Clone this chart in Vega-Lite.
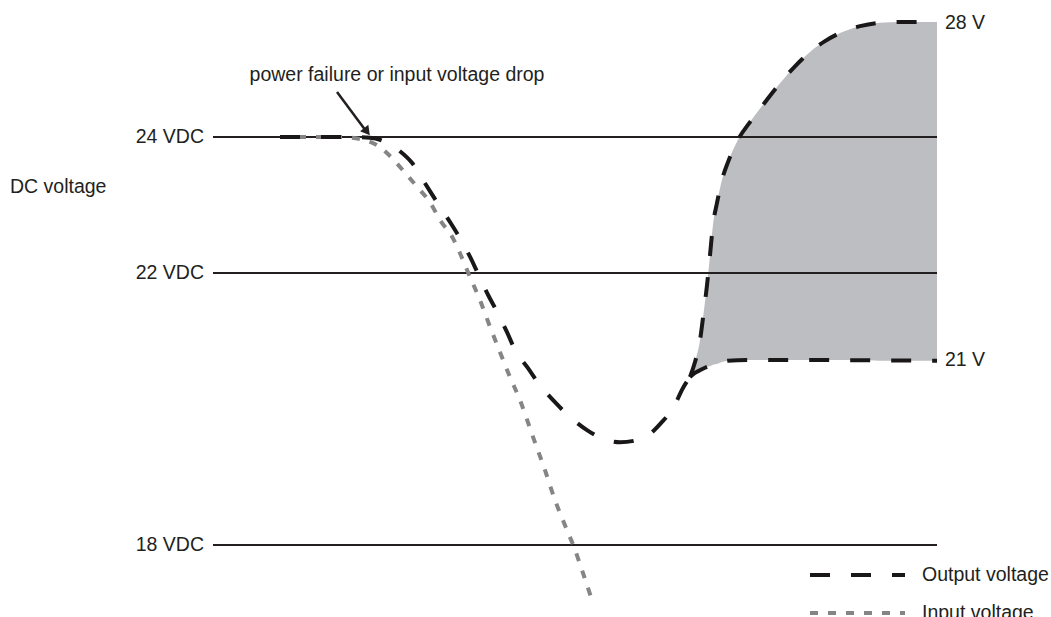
{
  "$schema": "https://vega.github.io/schema/vega-lite/v6.json",
  "width": 1051,
  "height": 617,
  "autosize": {"type": "none"},
  "padding": 0,
  "background": "white",
  "config": {"view": {"stroke": null}, "text": {"font": "Liberation Sans", "fontSize": 19.5, "color": "#231f20"}},
  "datasets": {
    "curves": [
      {"branch": "main", "t": 280, "v": 24.0},
      {"branch": "main", "t": 340, "v": 24.0},
      {"branch": "main", "t": 370, "v": 23.99},
      {"branch": "main", "t": 385, "v": 23.93},
      {"branch": "main", "t": 400, "v": 23.79},
      {"branch": "main", "t": 412, "v": 23.62},
      {"branch": "main", "t": 425, "v": 23.32},
      {"branch": "main", "t": 437, "v": 23.04},
      {"branch": "main", "t": 450, "v": 22.75},
      {"branch": "main", "t": 460, "v": 22.51},
      {"branch": "main", "t": 470, "v": 22.24},
      {"branch": "main", "t": 478, "v": 21.99},
      {"branch": "main", "t": 488, "v": 21.68},
      {"branch": "main", "t": 497, "v": 21.43},
      {"branch": "main", "t": 507, "v": 21.13},
      {"branch": "main", "t": 515, "v": 20.87},
      {"branch": "main", "t": 528, "v": 20.6},
      {"branch": "main", "t": 540, "v": 20.35},
      {"branch": "main", "t": 555, "v": 20.1},
      {"branch": "main", "t": 568, "v": 19.91},
      {"branch": "main", "t": 587, "v": 19.69},
      {"branch": "main", "t": 603, "v": 19.56},
      {"branch": "main", "t": 620, "v": 19.51},
      {"branch": "main", "t": 643, "v": 19.57},
      {"branch": "main", "t": 662, "v": 19.81},
      {"branch": "main", "t": 673, "v": 20.01},
      {"branch": "main", "t": 683, "v": 20.31},
      {"branch": "main", "t": 690, "v": 20.47},
      {"branch": "lower", "t": 690, "v": 20.47},
      {"branch": "lower", "t": 695, "v": 20.53},
      {"branch": "lower", "t": 700, "v": 20.57},
      {"branch": "lower", "t": 707, "v": 20.62},
      {"branch": "lower", "t": 717, "v": 20.66},
      {"branch": "lower", "t": 728, "v": 20.71},
      {"branch": "lower", "t": 750, "v": 20.72},
      {"branch": "lower", "t": 800, "v": 20.72},
      {"branch": "lower", "t": 937, "v": 20.71},
      {"branch": "upper", "t": 690, "v": 20.47},
      {"branch": "upper", "t": 695, "v": 20.69},
      {"branch": "upper", "t": 700, "v": 21.01},
      {"branch": "upper", "t": 704, "v": 21.46},
      {"branch": "upper", "t": 707, "v": 21.82},
      {"branch": "upper", "t": 710, "v": 22.26},
      {"branch": "upper", "t": 713, "v": 22.71},
      {"branch": "upper", "t": 717, "v": 23.03},
      {"branch": "upper", "t": 722, "v": 23.37},
      {"branch": "upper", "t": 728, "v": 23.63},
      {"branch": "upper", "t": 738, "v": 23.96},
      {"branch": "upper", "t": 750, "v": 24.22},
      {"branch": "upper", "t": 765, "v": 24.51},
      {"branch": "upper", "t": 780, "v": 24.79},
      {"branch": "upper", "t": 795, "v": 25.04},
      {"branch": "upper", "t": 810, "v": 25.25},
      {"branch": "upper", "t": 825, "v": 25.41},
      {"branch": "upper", "t": 840, "v": 25.53},
      {"branch": "upper", "t": 860, "v": 25.63},
      {"branch": "upper", "t": 880, "v": 25.68},
      {"branch": "upper", "t": 900, "v": 25.69},
      {"branch": "upper", "t": 937, "v": 25.69}
    ],
    "band": [
      {"t": 690, "hi": 20.47, "lo": 20.47},
      {"t": 695, "hi": 20.69, "lo": 20.53},
      {"t": 700, "hi": 21.01, "lo": 20.57},
      {"t": 704, "hi": 21.46, "lo": 20.6},
      {"t": 707, "hi": 21.82, "lo": 20.62},
      {"t": 710, "hi": 22.26, "lo": 20.63},
      {"t": 713, "hi": 22.71, "lo": 20.65},
      {"t": 717, "hi": 23.03, "lo": 20.66},
      {"t": 722, "hi": 23.37, "lo": 20.69},
      {"t": 728, "hi": 23.63, "lo": 20.71},
      {"t": 738, "hi": 23.96, "lo": 20.72},
      {"t": 750, "hi": 24.22, "lo": 20.72},
      {"t": 765, "hi": 24.51, "lo": 20.72},
      {"t": 780, "hi": 24.79, "lo": 20.72},
      {"t": 795, "hi": 25.04, "lo": 20.72},
      {"t": 810, "hi": 25.25, "lo": 20.72},
      {"t": 825, "hi": 25.41, "lo": 20.72},
      {"t": 840, "hi": 25.53, "lo": 20.72},
      {"t": 860, "hi": 25.63, "lo": 20.72},
      {"t": 880, "hi": 25.68, "lo": 20.71},
      {"t": 900, "hi": 25.69, "lo": 20.71},
      {"t": 937, "hi": 25.69, "lo": 20.71}
    ],
    "input": [
      {"t": 280, "v": 24.0},
      {"t": 340, "v": 24.0},
      {"t": 360, "v": 23.97},
      {"t": 377, "v": 23.88},
      {"t": 390, "v": 23.72},
      {"t": 407, "v": 23.44},
      {"t": 420, "v": 23.22},
      {"t": 430, "v": 23.04},
      {"t": 440, "v": 22.78},
      {"t": 453, "v": 22.51},
      {"t": 460, "v": 22.29},
      {"t": 468, "v": 22.01},
      {"t": 480, "v": 21.6},
      {"t": 490, "v": 21.21},
      {"t": 498, "v": 20.91},
      {"t": 510, "v": 20.47},
      {"t": 520, "v": 20.13},
      {"t": 533, "v": 19.59},
      {"t": 545, "v": 19.1},
      {"t": 555, "v": 18.66},
      {"t": 565, "v": 18.29},
      {"t": 575, "v": 17.93},
      {"t": 582, "v": 17.63},
      {"t": 592, "v": 17.19}
    ],
    "levels": [
      {"v": 24, "label": "24 VDC"},
      {"v": 22, "label": "22 VDC"},
      {"v": 18, "label": "18 VDC"}
    ],
    "endlabels": [
      {"v": 25.68, "label": "28 V"},
      {"v": 20.72, "label": "21 V"}
    ],
    "legend": [
      {"series": "Output voltage", "t": 810, "v": 17.56},
      {"series": "Output voltage", "t": 905, "v": 17.56},
      {"series": "Input voltage", "t": 810, "v": 17.0},
      {"series": "Input voltage", "t": 905, "v": 17.0}
    ],
    "arrow": [
      {"t": 337, "v": 24.66},
      {"t": 366, "v": 24.09}
    ]
  },
  "layer": [
    {
      "data": {"name": "band"},
      "mark": {"type": "area", "color": "#bdbec2", "interpolate": "monotone"},
      "encoding": {
        "x": {"field": "t", "type": "quantitative", "scale": {"domain": [0, 1051], "nice": false, "zero": false}, "axis": null},
        "y": {"field": "hi", "type": "quantitative", "scale": {"domain": [16.9412, 26.0147], "nice": false, "zero": false}, "axis": null},
        "y2": {"field": "lo"}
      }
    },
    {
      "data": {"name": "levels"},
      "mark": {"type": "rule", "color": "#231f20", "strokeWidth": 2.2},
      "encoding": {
        "x": {"datum": 213, "type": "quantitative"},
        "x2": {"datum": 937},
        "y": {"field": "v", "type": "quantitative"}
      }
    },
    {
      "data": {"name": "levels"},
      "mark": {"type": "text", "align": "right", "baseline": "middle"},
      "encoding": {
        "x": {"datum": 204, "type": "quantitative"},
        "y": {"field": "v", "type": "quantitative"},
        "text": {"field": "label"}
      }
    },
    {
      "data": {"name": "endlabels"},
      "mark": {"type": "text", "align": "left", "baseline": "middle"},
      "encoding": {
        "x": {"datum": 945, "type": "quantitative"},
        "y": {"field": "v", "type": "quantitative"},
        "text": {"field": "label"}
      }
    },
    {
      "data": {"values": [{"label": "DC voltage", "t": 10, "v": 23.26}]},
      "mark": {"type": "text", "baseline": "middle", "align": "left"},
      "encoding": {
        "x": {"field": "t", "type": "quantitative"},
        "y": {"field": "v", "type": "quantitative"},
        "text": {"field": "label"}
      }
    },
    {
      "data": {"values": [{"label": "power failure or input voltage drop", "t": 397, "v": 24.91}]},
      "mark": {"type": "text", "baseline": "middle", "align": "center"},
      "encoding": {
        "x": {"field": "t", "type": "quantitative"},
        "y": {"field": "v", "type": "quantitative"},
        "text": {"field": "label"}
      }
    },
    {
      "data": {"name": "arrow"},
      "mark": {"type": "line", "color": "#231f20", "strokeWidth": 2.5},
      "encoding": {
        "x": {"field": "t", "type": "quantitative"},
        "y": {"field": "v", "type": "quantitative"}
      }
    },
    {
      "data": {"values": [{"t": 367, "v": 24.08}]},
      "mark": {"type": "point", "shape": "triangle-up", "filled": true, "color": "#231f20", "size": 110, "angle": 142, "opacity": 1},
      "encoding": {
        "x": {"field": "t", "type": "quantitative"},
        "y": {"field": "v", "type": "quantitative"}
      }
    },
    {
      "data": {"name": "input"},
      "mark": {"type": "line", "color": "#858585", "strokeWidth": 4, "strokeDash": [8, 10], "interpolate": "monotone", "strokeCap": "butt"},
      "encoding": {
        "x": {"field": "t", "type": "quantitative"},
        "y": {"field": "v", "type": "quantitative"}
      }
    },
    {
      "data": {"name": "curves"},
      "mark": {"type": "line", "color": "#1a1718", "strokeWidth": 4, "strokeDash": [20, 21], "interpolate": "monotone", "strokeCap": "butt"},
      "encoding": {
        "x": {"field": "t", "type": "quantitative"},
        "y": {"field": "v", "type": "quantitative"},
        "detail": {"field": "branch"}
      }
    },
    {
      "data": {"name": "legend"},
      "mark": {"type": "line", "strokeWidth": 4, "strokeCap": "butt"},
      "encoding": {
        "x": {"field": "t", "type": "quantitative"},
        "y": {"field": "v", "type": "quantitative"},
        "detail": {"field": "series"},
        "color": {"field": "series", "type": "nominal", "scale": {"domain": ["Output voltage", "Input voltage"], "range": ["#1a1718", "#858585"]}, "legend": null},
        "strokeDash": {"field": "series", "type": "nominal", "scale": {"domain": ["Output voltage", "Input voltage"], "range": [[20, 21], [8, 10]]}, "legend": null}
      }
    },
    {
      "data": {"name": "legend"},
      "transform": [{"filter": "datum.t > 900"}],
      "mark": {"type": "text", "align": "left", "baseline": "middle"},
      "encoding": {
        "x": {"datum": 922, "type": "quantitative"},
        "y": {"field": "v", "type": "quantitative"},
        "text": {"field": "series"}
      }
    }
  ]
}
